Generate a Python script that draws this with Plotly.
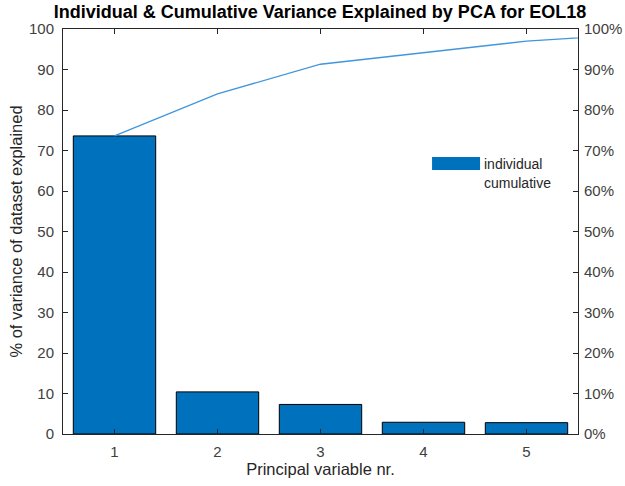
import plotly.graph_objects as go

components = [1, 2, 3, 4, 5]
individual = [73.6, 10.4, 7.3, 2.9, 2.8]
cum_x = [1, 2, 3, 4, 5, 6]
cumulative = [73.6, 84.0, 91.3, 94.2, 97.0, 98.6]
y_ticks = [0, 10, 20, 30, 40, 50, 60, 70, 80, 90, 100]

FONT = "Liberation Sans, Arial, sans-serif"
AX = "#262626"
TICK = "#404040"

fig = go.Figure()
fig.add_trace(go.Bar(x=components, y=individual, width=0.8,
                     marker=dict(color="#0072BD", line=dict(color="#000000", width=1)),
                     showlegend=False))
fig.add_trace(go.Scatter(x=cum_x, y=cumulative, mode="lines", yaxis="y2",
                         line=dict(color="#4196dc", width=1.3), showlegend=False))

# manual legend (MATLAB style)
fig.add_shape(type="rect", x0=4.083, x1=4.549, y0=65.2, y1=68.4, xref="x", yref="y",
              fillcolor="#0072BD", line=dict(width=0))
fig.add_annotation(x=4.57, y=66.6, xref="x", yref="y", text="individual", showarrow=False,
                   xanchor="left", yanchor="middle", font=dict(family=FONT, size=14, color=AX))
fig.add_annotation(x=4.57, y=62.1, xref="x", yref="y", text="cumulative", showarrow=False,
                   xanchor="left", yanchor="middle", font=dict(family=FONT, size=14, color=AX))

fig.update_layout(
    width=625, height=486,
    margin=dict(l=63, r=47, t=29, b=52),
    paper_bgcolor="white", plot_bgcolor="white",
    font=dict(family=FONT, color=TICK, size=15),
    title=dict(text="<b>Individual & Cumulative Variance Explained by PCA for EOL18</b>",
               x=0.512, xanchor="center", y=0.975, yanchor="middle", automargin=False,
               font=dict(family=FONT, size=18, color="#000000")),
    xaxis=dict(range=[0.5, 5.5], tickvals=components, ticks="inside", ticklen=5,
               tickcolor=AX, showline=True, linecolor=AX, linewidth=1, mirror="ticks",
               showgrid=False, zeroline=False, ticklabelstandoff=4, automargin=False,
               title=dict(text="Principal variable nr.", font=dict(size=16.5, color=AX), standoff=3),
               tickfont=dict(size=15, color=TICK)),
    yaxis=dict(range=[0, 100], tickvals=y_ticks, ticks="inside", ticklen=5,
               tickcolor=AX, showline=True, linecolor=AX, linewidth=1, mirror=True,
               showgrid=False, zeroline=False, ticklabelstandoff=5, automargin=False,
               title=dict(text="% of variance of dataset explained", font=dict(size=16.5, color=AX), standoff=2),
               tickfont=dict(size=15, color=TICK)),
    yaxis2=dict(range=[0, 100], tickvals=y_ticks, ticktext=[f"{v}%" for v in y_ticks],
                overlaying="y", side="right", ticks="inside", ticklen=5, tickcolor=AX,
                showline=False, showgrid=False, zeroline=False, ticklabelstandoff=5,
                automargin=False, tickfont=dict(size=15, color=TICK)),
)

fig.write_html("out.html")
